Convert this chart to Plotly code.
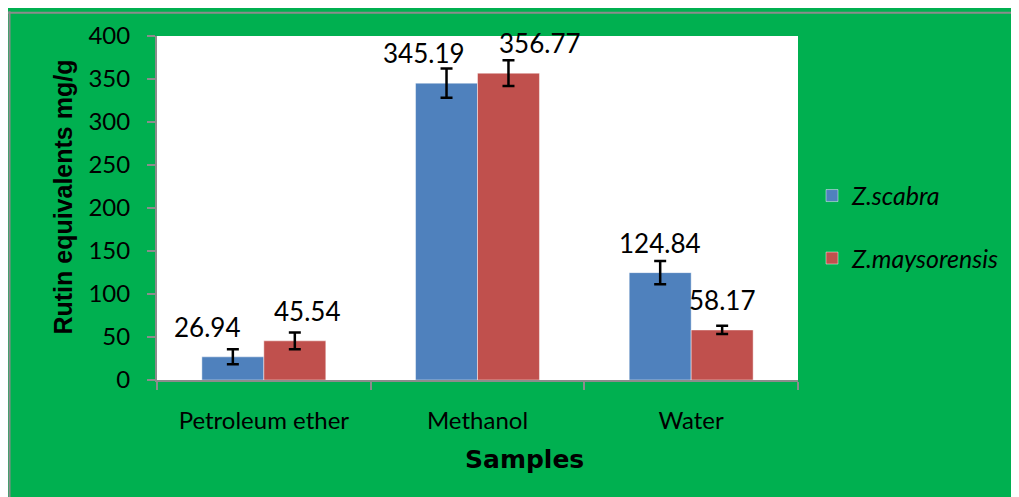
import plotly.graph_objects as go

categories = ["Petroleum ether", "Methanol", "Water"]
series_names = ["Z.scabra", "Z.maysorensis"]
scabra_values = [26.94, 345.19, 124.84]
scabra_errors = [8.7, 17.0, 13.4]
mays_values = [45.54, 356.77, 58.17]
mays_errors = [9.8, 15.0, 4.8]
y_ticks = [0, 50, 100, 150, 200, 250, 300, 350, 400]

BLUE = "#4F81BD"
RED = "#C0504D"
GREEN = "#00B050"
FONT = "Lato"

# page has an 8px body margin; figure coordinates below are relative to the figure
W, H = 1011, 489
L, R, T, B = 149, 221, 25, 117
pw, ph = W - L - R, H - T - B

fig = go.Figure()
for name, vals, errs, col, grp in [
    (series_names[0], scabra_values, scabra_errors, BLUE, "a"),
    (series_names[1], mays_values, mays_errors, RED, "b"),
]:
    fig.add_trace(go.Bar(
        x=categories, y=vals, name=name, legendgroup=grp,
        marker=dict(color=col, line=dict(color="rgba(255,255,255,0.45)", width=1)),
        error_y=dict(type="data", array=errs, visible=True, color="black",
                     thickness=2.5, width=6),
    ))

label_shift_scabra = [-57, -54, -31]
label_shift_mays = [43, 62, 31]
annotations = []
for vals, shifts in [(scabra_values, label_shift_scabra), (mays_values, label_shift_mays)]:
    for c, v, s in zip(categories, vals, shifts):
        annotations.append(dict(
            x=c, y=v, xref="x", yref="y", text=f"{v:.2f}", showarrow=False,
            xshift=s, yshift=12, yanchor="bottom",
            font=dict(family=FONT, size=26, color="black"),
        ))

def px_to_paper_x(px):
    return (px - L) / pw

def px_to_paper_y(py):
    return (H - B - py) / ph

annotations.append(dict(
    x=px_to_paper_x(55), y=px_to_paper_y(188), xref="paper", yref="paper",
    text="Rutin equivalents mg/g", textangle=-90, showarrow=False,
    xanchor="center", yanchor="middle",
    font=dict(family="Liberation Sans", size=25, color="black", weight="bold"),
))
annotations.append(dict(
    x=px_to_paper_x(516), y=px_to_paper_y(452), xref="paper", yref="paper",
    text="Samples", showarrow=False, xanchor="center", yanchor="middle",
    font=dict(family="DejaVu Sans", size=25, color="black", weight="bold"),
))

shapes = [
    dict(type="line", xref="paper", yref="paper",
         x0=px_to_paper_x(0), x1=px_to_paper_x(W + 5),
         y0=px_to_paper_y(1.5), y1=px_to_paper_y(1.5),
         line=dict(color="#8c8c8c", width=2), layer="below"),
    dict(type="line", xref="paper", yref="paper",
         x0=px_to_paper_x(1.5), x1=px_to_paper_x(1.5),
         y0=px_to_paper_y(0), y1=px_to_paper_y(H + 5),
         line=dict(color="#8c8c8c", width=2), layer="below"),
]

fig.update_layout(
    width=W, height=H,
    margin=dict(l=L, r=R, t=T, b=B, pad=0),
    paper_bgcolor=GREEN, plot_bgcolor="white",
    barmode="group", bargap=0.42, bargroupgap=0,
    showlegend=True,
    legend=dict(
        x=px_to_paper_x(804), y=px_to_paper_y(163), xanchor="left", yanchor="top",
        bgcolor="rgba(0,0,0,0)", tracegroupgap=27,
        font=dict(family=FONT, size=25, color="black", style="italic"),
    ),
    annotations=annotations, shapes=shapes,
    font=dict(family=FONT, size=24, color="black"),
)
fig.update_xaxes(
    showline=True, linecolor="#8c8c8c", linewidth=2,
    ticks="outside", tickson="boundaries", ticklen=8, tickcolor="#8c8c8c", tickwidth=2,
    ticklabelstandoff=18, showgrid=False,
    tickfont=dict(family=FONT, size=24, color="black"),
)
fig.update_yaxes(
    range=[0, 400], tickvals=y_ticks, showline=True, linecolor="#8c8c8c", linewidth=2,
    ticks="outside", ticklen=8, tickcolor="#8c8c8c", tickwidth=2,
    ticklabelstandoff=12, showgrid=False, zeroline=False,
    tickfont=dict(family=FONT, size=24, color="black"),
)

fig.write_html("out.html")
